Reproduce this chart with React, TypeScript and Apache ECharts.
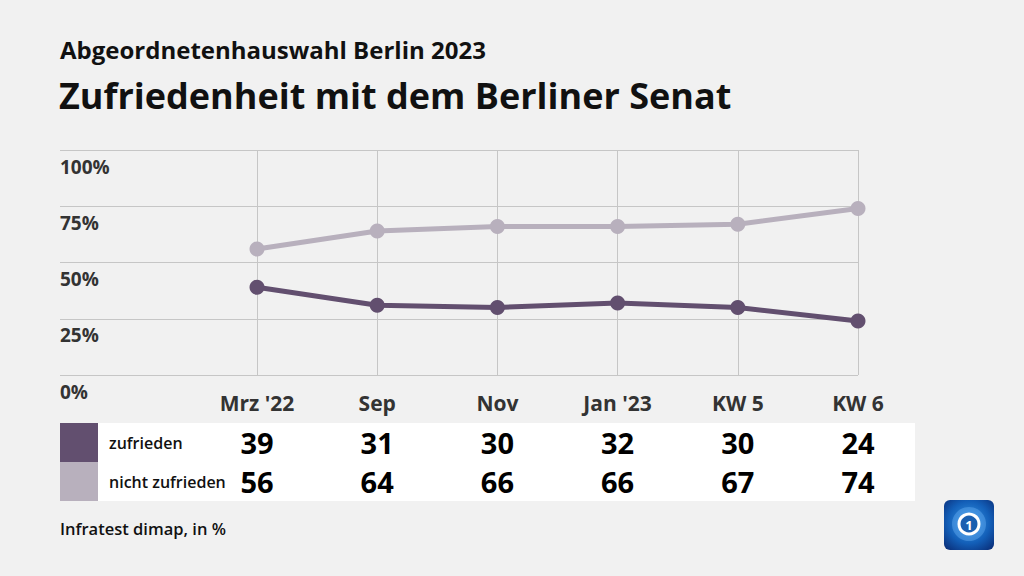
import React, { useEffect, useRef } from "react";
import * as echarts from "echarts";

const categories = ["Mrz '22", "Sep", "Nov", "Jan '23", "KW 5", "KW 6"];
const zufrieden = [39, 31, 30, 32, 30, 24];
const nichtZufrieden = [56, 64, 66, 66, 67, 74];
const yTicks = [0, 25, 50, 75, 100];
const seriesNames = ["zufrieden", "nicht zufrieden"];

const DARK = "#624f6f";
const LIGHT = "#b8b0bd";
const FONT = "'Open Sans', 'Noto Sans', sans-serif";

export default function App() {
  const ref = useRef<HTMLDivElement>(null);
  useEffect(() => {
    if (!ref.current) return;
    const chart = echarts.init(ref.current, undefined, { renderer: "svg" });
    const gridLeft = 60, gridRight = 166, gridTop = 150, gridBottom = 201;
    const numLabel = {
      show: true,
      position: "inside",
      formatter: (p: any) => String(p.value[2]),
      color: "#000",
      fontFamily: FONT,
      fontWeight: "bold",
      fontSize: 29,
    };
    const option: any = {
      animation: false,
      backgroundColor: "#f1f1f1",
      textStyle: { fontFamily: FONT },
      grid: [
        { left: gridLeft, right: gridRight, top: gridTop, bottom: gridBottom },
        { left: 257, right: gridRight, top: gridTop, bottom: gridBottom },
        { left: 257, right: gridRight, top: 423, height: 78 },
      ],
      xAxis: [
        { gridIndex: 0, type: "value", min: 0, max: 1, show: false },
        {
          gridIndex: 1,
          type: "category",
          data: categories,
          boundaryGap: false,
          axisLine: { show: false },
          axisTick: { show: false },
          splitLine: { show: true, lineStyle: { color: "#c6c6c6", width: 1 } },
          axisLabel: {
            color: "#333",
            fontFamily: FONT,
            fontWeight: "bold",
            fontSize: 21,
            margin: 17,
          },
        },
        {
          gridIndex: 2,
          type: "category",
          data: categories,
          boundaryGap: false,
          show: false,
        },
      ],
      yAxis: [
        {
          gridIndex: 0,
          type: "value",
          min: 0,
          max: 100,
          interval: 25,
          axisLine: { show: false },
          axisTick: { show: false },
          splitLine: { show: true, lineStyle: { color: "#c6c6c6", width: 1 } },
          axisLabel: {
            inside: true,
            margin: 0,
            align: "left",
            verticalAlign: "top",
            padding: [7, 0, 0, 0],
            color: "#333",
            fontFamily: FONT,
            fontWeight: "bold",
            fontSize: 19,
            formatter: (v: number) => (yTicks.includes(v) ? v + "%" : ""),
          },
        },
        { gridIndex: 1, type: "value", min: 0, max: 100, show: false },
        { gridIndex: 2, type: "value", min: 0, max: 2, show: false },
      ],
      series: [
        {
          name: seriesNames[1],
          type: "line",
          xAxisIndex: 1,
          yAxisIndex: 1,
          data: nichtZufrieden,
          symbol: "circle",
          symbolSize: 15,
          lineStyle: { color: LIGHT, width: 5 },
          itemStyle: { color: LIGHT },
        },
        {
          name: seriesNames[0],
          type: "line",
          xAxisIndex: 1,
          yAxisIndex: 1,
          data: zufrieden,
          symbol: "circle",
          symbolSize: 15,
          lineStyle: { color: DARK, width: 5 },
          itemStyle: { color: DARK },
        },
        {
          type: "scatter",
          xAxisIndex: 2,
          yAxisIndex: 2,
          symbolSize: 1,
          itemStyle: { color: "rgba(0,0,0,0)", opacity: 1 },
          data: zufrieden.map((v, i) => [i, 1.5, v]),
          label: numLabel,
        },
        {
          type: "scatter",
          xAxisIndex: 2,
          yAxisIndex: 2,
          symbolSize: 1,
          itemStyle: { color: "rgba(0,0,0,0)", opacity: 1 },
          data: nichtZufrieden.map((v, i) => [i, 0.5, v]),
          label: numLabel,
        },
      ],
      graphic: [
        {
          type: "text",
          left: 60,
          top: 37,
          style: {
            text: "Abgeordnetenhauswahl Berlin 2023",
            font: `bold 24px ${FONT}`,
            fill: "#111",
          },
        },
        {
          type: "text",
          left: 59,
          top: 77,
          style: {
            text: "Zufriedenheit mit dem Berliner Senat",
            font: `bold 36px ${FONT}`,
            fill: "#111",
          },
        },
        { type: "rect", z: 0, shape: { x: 98, y: 423, width: 817, height: 78 }, style: { fill: "#ffffff" } },
        { type: "rect", shape: { x: 60, y: 423, width: 38, height: 39 }, style: { fill: DARK } },
        { type: "rect", shape: { x: 60, y: 462, width: 38, height: 39 }, style: { fill: LIGHT } },
        {
          type: "text",
          x: 109,
          y: 443,
          style: { text: seriesNames[0], font: `600 16px ${FONT}`, fill: "#111", verticalAlign: "middle" },
        },
        {
          type: "text",
          x: 109,
          y: 482,
          style: { text: seriesNames[1], font: `600 16px ${FONT}`, fill: "#111", verticalAlign: "middle" },
        },
        {
          type: "text",
          x: 60,
          y: 528,
          style: { text: "Infratest dimap, in %", font: `600 16.5px ${FONT}`, fill: "#111", verticalAlign: "middle" },
        },
        {
          type: "group",
          children: [
            {
              type: "rect",
              shape: { x: 944, y: 500, width: 50, height: 50, r: 6 },
              style: {
                fill: new echarts.graphic.RadialGradient(0.5, 0.45, 0.7, [
                  { offset: 0, color: "#3a9be8" },
                  { offset: 0.6, color: "#135fb8" },
                  { offset: 1, color: "#0a2f7a" },
                ]),
              },
            },
            {
              type: "circle",
              shape: { cx: 969, cy: 524, r: 17 },
              style: { fill: "rgba(120,190,255,0.35)" },
            },
            {
              type: "circle",
              shape: { cx: 969, cy: 524, r: 10 },
              style: { fill: "#1a5fb0", stroke: "#ffffff", lineWidth: 3 },
            },
            {
              type: "text",
              x: 969,
              y: 525,
              style: { text: "1", font: `bold 13px ${FONT}`, fill: "#ffffff", align: "center", verticalAlign: "middle" },
            },
          ],
        },
      ],
    };
    chart.setOption(option);
    return () => chart.dispose();
  }, []);
  return (
    <div
      ref={ref}
      style={{ position: "fixed", left: 0, top: 0, width: 1024, height: 576 }}
    />
  );
}
